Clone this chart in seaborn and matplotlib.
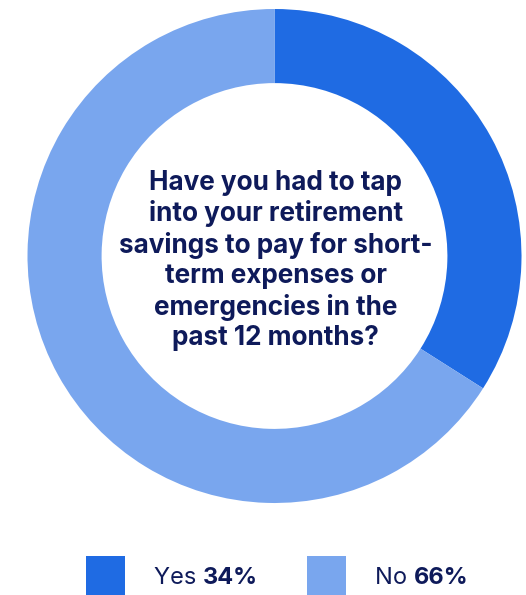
import matplotlib
matplotlib.use("Agg")
import matplotlib.pyplot as plt
from matplotlib.patches import Rectangle
import seaborn as sns

sns.set_theme(style="white")
plt.rcParams["font.family"] = ["Inter", "DejaVu Sans"]

categories = ["Yes", "No"]
shares = [34, 66]
colors = ["#1F6BE3", "#79A6EE"]
question = ("Have you had to tap\ninto your retirement\nsavings to pay for short-\n"
            "term expenses or\nemergencies in the\npast 12 months?")
ink = "#0E1A5A"

W, H = 526, 595
fig = plt.figure(figsize=(W / 100, H / 100), dpi=100)
fig.patch.set_facecolor("white")

# donut axes: centre (274.5, 256) px from top-left, outer radius 247 px
cx, cy, r = 274.5, 256, 247
ax = fig.add_axes([(cx - r) / W, (H - cy - r) / H, 2 * r / W, 2 * r / H])
ax.pie(shares, colors=colors, startangle=90, counterclock=False,
       radius=1.0, wedgeprops=dict(width=0.30, linewidth=0))
ax.set_xlim(-1, 1)
ax.set_ylim(-1, 1)
ax.set_aspect("equal")
ax.axis("off")

ax.text(0.005, -0.018, question, ha="center", va="center", fontsize=18.8,
        fontweight="bold", color=ink, linespacing=1.22)

# legend: swatch + label + bold value
sw = 39
legend_x = [86, 307]
for x0, cat, val, col in zip(legend_x, categories, shares, colors):
    fig.patches.append(Rectangle((x0 / W, 0), sw / W, sw / H,
                                 transform=fig.transFigure, facecolor=col,
                                 edgecolor="none"))
    label = fig.text((x0 + 68) / W, (H - 578) / H, f"{cat} ", ha="left",
                     va="center", fontsize=17, color=ink)
    fig.add_artist(matplotlib.text.Annotation(
        f"{val}%", xy=(1, 0.5), xycoords=label, ha="left", va="center",
        fontsize=17, fontweight="bold", color=ink, annotation_clip=False))

fig.savefig("out.png", dpi=100, facecolor="white")
